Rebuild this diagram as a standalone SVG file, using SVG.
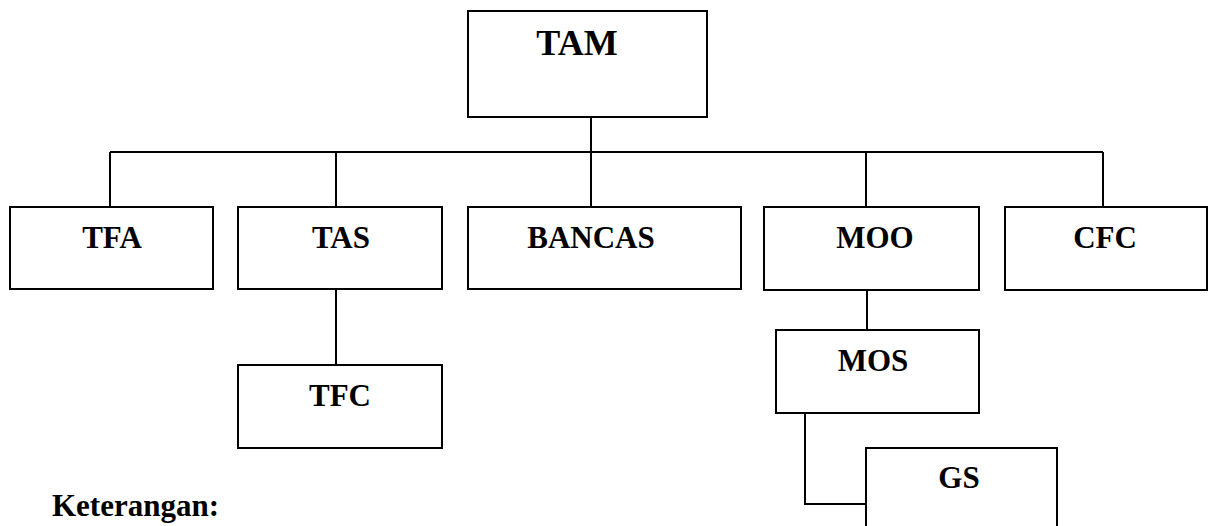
<svg xmlns="http://www.w3.org/2000/svg" width="1210" height="526" viewBox="0 0 1210 526">
<style>
.box{fill:#fff;stroke:#000;stroke-width:2}
.lbl{font-family:"Liberation Serif","Times New Roman",serif;font-weight:bold;font-size:31px;fill:#000;text-anchor:middle}
.big{font-size:36px}
.conn line,.conn polyline{stroke:#000;stroke-width:2;fill:none}
</style>
<rect width="1210" height="526" fill="#fff"/>
<g id="connectors" class="conn">
<line x1="591" y1="117" x2="591" y2="207"/>
<line x1="110" y1="152" x2="1103" y2="152"/>
<line x1="110" y1="152" x2="110" y2="207"/>
<line x1="336" y1="152" x2="336" y2="207"/>
<line x1="866" y1="152" x2="866" y2="207"/>
<line x1="1103" y1="152" x2="1103" y2="207"/>
<line x1="336" y1="290" x2="336" y2="365"/>
<line x1="867" y1="290" x2="867" y2="330"/>
<polyline points="805,413 805,504 866,504"/>
</g>
<g id="TAM"><rect class="box" x="468" y="11" width="239" height="106"/><text class="lbl big" x="577" y="55">TAM</text></g>
<g id="TFA"><rect class="box" x="10" y="207" width="203" height="82"/><text class="lbl" x="112" y="248">TFA</text></g>
<g id="TAS"><rect class="box" x="238" y="207" width="204" height="82"/><text class="lbl" x="341" y="248">TAS</text></g>
<g id="BANCAS"><rect class="box" x="468" y="207" width="273" height="82"/><text class="lbl" x="591" y="248">BANCAS</text></g>
<g id="MOO"><rect class="box" x="764" y="207" width="215" height="83"/><text class="lbl" x="875" y="248">MOO</text></g>
<g id="CFC"><rect class="box" x="1005" y="207" width="202" height="83"/><text class="lbl" x="1105" y="248">CFC</text></g>
<g id="TFC"><rect class="box" x="238" y="365" width="204" height="83"/><text class="lbl" x="340" y="406">TFC</text></g>
<g id="MOS"><rect class="box" x="776" y="330" width="203" height="83"/><text class="lbl" x="873" y="371">MOS</text></g>
<g id="GS"><rect class="box" x="866" y="448" width="191" height="100"/><text class="lbl" x="959" y="488">GS</text></g>
<text class="lbl" x="52" y="516" style="text-anchor:start">Keterangan:</text>
</svg>
